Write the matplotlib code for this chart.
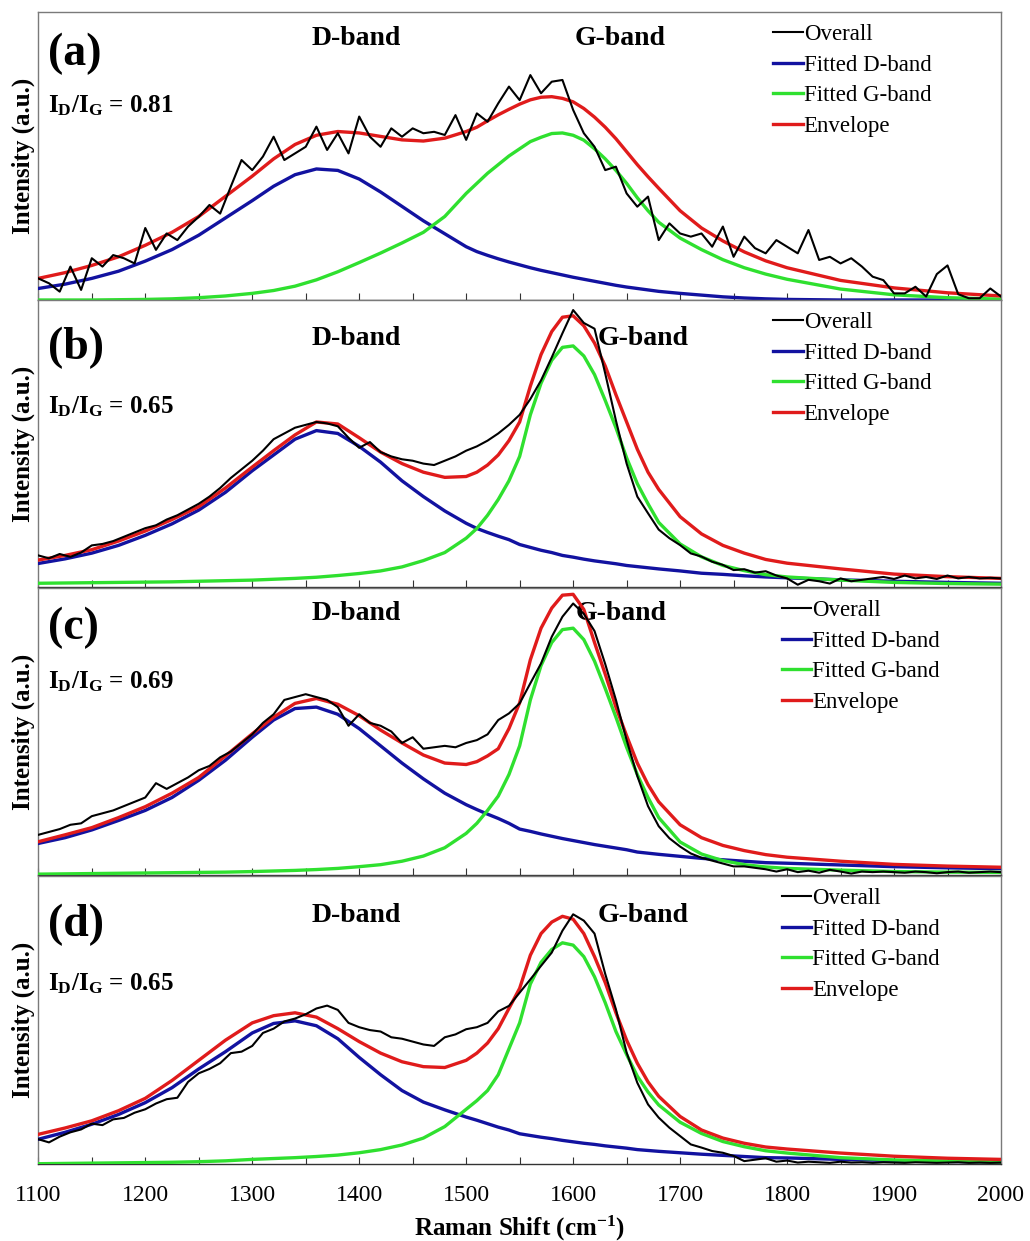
import numpy as np
import matplotlib
matplotlib.use('Agg')
import matplotlib.pyplot as plt
from matplotlib.ticker import MultipleLocator

plt.rcParams.update({
    'font.family': 'Liberation Serif',
    'mathtext.fontset': 'custom',
    'mathtext.rm': 'Liberation Serif',
    'mathtext.bf': 'Liberation Serif:bold',
    'mathtext.it': 'Liberation Serif:italic',
})

# ---- data (intensity in a.u. per panel) ----
PANEL_TAGS = ['(a)', '(b)', '(c)', '(d)']
RATIOS = ['0.81', '0.65', '0.69', '0.65']
LEGEND_LABELS = ['Overall', 'Fitted D-band', 'Fitted G-band', 'Envelope']

# raman shift grid for the fitted curves
SHIFT_FIT = [1100, 1125, 1150, 1175, 1200, 1225, 1250, 1275, 1300, 1320, 1340, 1360,
             1380, 1400, 1420, 1440, 1460, 1480, 1500, 1510, 1520, 1530, 1540, 1550,
             1560, 1570, 1580, 1590, 1600, 1610, 1620, 1630, 1640, 1650, 1660, 1670,
             1680, 1700, 1720, 1740, 1760, 1780, 1800, 1850, 1900, 1950, 2000]
# raman shift grid for the measured spectra
SHIFT_RAW = np.arange(1100, 2001, 10)

D_A = [0.040, 0.055, 0.075, 0.100, 0.135, 0.175, 0.225, 0.285, 0.345, 0.395, 0.435, 0.455,
       0.450, 0.420, 0.375, 0.325, 0.275, 0.230, 0.185, 0.168, 0.155, 0.143, 0.132, 0.122,
       0.112, 0.103, 0.095, 0.087, 0.079, 0.072, 0.065, 0.058, 0.051, 0.045, 0.040, 0.035,
       0.030, 0.023, 0.017, 0.011, 0.007, 0.004, 0.002, 0.0, 0.0, 0.0, 0.0]
G_A = [0.0, 0.0, 0.0, 0.001, 0.002, 0.004, 0.008, 0.014, 0.023, 0.033, 0.048, 0.070,
       0.098, 0.130, 0.163, 0.198, 0.235, 0.290, 0.370, 0.405, 0.440, 0.470, 0.500, 0.525,
       0.550, 0.565, 0.578, 0.580, 0.572, 0.555, 0.525, 0.490, 0.450, 0.405, 0.355, 0.310,
       0.270, 0.215, 0.175, 0.140, 0.112, 0.090, 0.072, 0.038, 0.018, 0.008, 0.003]
ENV_A = [0.075, 0.095, 0.120, 0.150, 0.190, 0.235, 0.290, 0.360, 0.430, 0.490, 0.540, 0.572,
         0.585, 0.580, 0.568, 0.556, 0.552, 0.562, 0.585, 0.600, 0.622, 0.643, 0.662, 0.680,
         0.695, 0.704, 0.706, 0.700, 0.688, 0.665, 0.635, 0.600, 0.560, 0.515, 0.470, 0.428,
         0.388, 0.310, 0.250, 0.205, 0.167, 0.136, 0.112, 0.068, 0.042, 0.025, 0.014]
RAW_A = [0.075, 0.058, 0.029, 0.116, 0.035, 0.145, 0.116, 0.156, 0.145, 0.127, 0.250, 0.174,
         0.231, 0.208, 0.255, 0.289, 0.330, 0.300, 0.394, 0.486, 0.451, 0.498, 0.567, 0.486,
         0.509, 0.532, 0.602, 0.521, 0.579, 0.509, 0.637, 0.567, 0.532, 0.596, 0.567, 0.596,
         0.579, 0.584, 0.573, 0.642, 0.556, 0.648, 0.619, 0.683, 0.741, 0.694, 0.781, 0.718,
         0.758, 0.764, 0.660, 0.579, 0.532, 0.451, 0.463, 0.370, 0.324, 0.359, 0.208, 0.266,
         0.231, 0.220, 0.231, 0.185, 0.255, 0.150, 0.220, 0.180, 0.162, 0.208, 0.185, 0.162,
         0.243, 0.139, 0.150, 0.127, 0.145, 0.116, 0.081, 0.069, 0.023, 0.023, 0.046, 0.012,
         0.090, 0.120, 0.020, 0.006, 0.006, 0.040, 0.012]

D_B = [0.082, 0.098, 0.118, 0.145, 0.180, 0.220, 0.268, 0.330, 0.405, 0.460, 0.515, 0.545,
       0.535, 0.490, 0.435, 0.370, 0.315, 0.265, 0.222, 0.204, 0.190, 0.177, 0.165, 0.148,
       0.138, 0.128, 0.120, 0.110, 0.104, 0.097, 0.091, 0.086, 0.081, 0.075, 0.071, 0.067,
       0.063, 0.056, 0.048, 0.044, 0.039, 0.035, 0.032, 0.025, 0.020, 0.016, 0.013]
G_B = [0.013, 0.014, 0.015, 0.016, 0.017, 0.018, 0.020, 0.022, 0.024, 0.027, 0.030, 0.034,
       0.040, 0.047, 0.056, 0.070, 0.092, 0.120, 0.170, 0.204, 0.250, 0.305, 0.370, 0.455,
       0.600, 0.710, 0.790, 0.835, 0.840, 0.805, 0.740, 0.650, 0.555, 0.450, 0.360, 0.290,
       0.225, 0.150, 0.105, 0.075, 0.057, 0.043, 0.035, 0.024, 0.016, 0.012, 0.010]
ENV_B = [0.094, 0.110, 0.130, 0.160, 0.195, 0.235, 0.280, 0.345, 0.418, 0.475, 0.530, 0.575,
         0.568, 0.520, 0.470, 0.430, 0.400, 0.382, 0.385, 0.400, 0.425, 0.460, 0.510, 0.575,
         0.700, 0.810, 0.890, 0.940, 0.945, 0.910, 0.850, 0.770, 0.670, 0.575, 0.480, 0.400,
         0.340, 0.245, 0.185, 0.145, 0.118, 0.096, 0.083, 0.063, 0.045, 0.036, 0.030]
RAW_B = [0.110, 0.100, 0.115, 0.105, 0.120, 0.145, 0.150, 0.160, 0.175, 0.190, 0.205, 0.215,
         0.235, 0.250, 0.270, 0.290, 0.315, 0.345, 0.380, 0.410, 0.440, 0.475, 0.515, 0.535,
         0.555, 0.565, 0.575, 0.570, 0.560, 0.520, 0.485, 0.505, 0.470, 0.455, 0.445, 0.440,
         0.430, 0.425, 0.440, 0.455, 0.475, 0.490, 0.510, 0.535, 0.565, 0.600, 0.655, 0.720,
         0.800, 0.884, 0.965, 0.920, 0.900, 0.744, 0.580, 0.430, 0.315, 0.257, 0.200, 0.170,
         0.146, 0.117, 0.106, 0.088, 0.077, 0.059, 0.062, 0.050, 0.055, 0.040, 0.030, 0.008,
         0.025, 0.020, 0.012, 0.030, 0.020, 0.025, 0.030, 0.035, 0.028, 0.040, 0.030, 0.035,
         0.028, 0.040, 0.030, 0.035, 0.030, 0.032, 0.030]

D_C = [0.110, 0.130, 0.157, 0.190, 0.225, 0.270, 0.330, 0.400, 0.480, 0.540, 0.580, 0.585,
       0.560, 0.510, 0.450, 0.390, 0.335, 0.285, 0.245, 0.228, 0.212, 0.197, 0.180, 0.160,
       0.152, 0.143, 0.135, 0.127, 0.120, 0.113, 0.106, 0.100, 0.094, 0.088, 0.080, 0.076,
       0.072, 0.065, 0.058, 0.053, 0.048, 0.043, 0.041, 0.035, 0.029, 0.025, 0.022]
G_C = [0.003, 0.004, 0.005, 0.006, 0.007, 0.008, 0.009, 0.010, 0.012, 0.014, 0.016, 0.019,
       0.023, 0.029, 0.036, 0.048, 0.066, 0.095, 0.145, 0.180, 0.225, 0.275, 0.350, 0.450,
       0.610, 0.730, 0.810, 0.855, 0.860, 0.820, 0.745, 0.650, 0.550, 0.445, 0.350, 0.270,
       0.200, 0.115, 0.073, 0.050, 0.036, 0.028, 0.023, 0.017, 0.012, 0.010, 0.009]
ENV_C = [0.116, 0.140, 0.165, 0.200, 0.238, 0.285, 0.340, 0.415, 0.492, 0.550, 0.598, 0.615,
         0.595, 0.555, 0.505, 0.460, 0.418, 0.390, 0.385, 0.395, 0.415, 0.440, 0.510, 0.600,
         0.750, 0.860, 0.930, 0.975, 0.978, 0.925, 0.810, 0.700, 0.585, 0.485, 0.390, 0.315,
         0.255, 0.175, 0.130, 0.103, 0.085, 0.071, 0.062, 0.048, 0.037, 0.031, 0.027]
RAW_C = [0.140, 0.150, 0.160, 0.175, 0.180, 0.205, 0.215, 0.225, 0.240, 0.255, 0.270, 0.320,
         0.300, 0.320, 0.340, 0.365, 0.380, 0.410, 0.430, 0.460, 0.490, 0.530, 0.560, 0.610,
         0.620, 0.630, 0.620, 0.610, 0.585, 0.520, 0.560, 0.530, 0.520, 0.500, 0.460, 0.480,
         0.440, 0.445, 0.450, 0.445, 0.460, 0.470, 0.490, 0.540, 0.563, 0.598, 0.668, 0.737,
         0.830, 0.900, 0.946, 0.910, 0.850, 0.735, 0.610, 0.470, 0.345, 0.240, 0.170, 0.128,
         0.099, 0.075, 0.060, 0.050, 0.040, 0.030, 0.030, 0.025, 0.020, 0.012, 0.020, 0.010,
         0.015, 0.008, 0.018, 0.012, 0.005, 0.012, 0.010, 0.012, 0.010, 0.008, 0.012, 0.010,
         0.006, 0.010, 0.012, 0.008, 0.010, 0.012, 0.010]

D_D = [0.086, 0.110, 0.138, 0.172, 0.213, 0.265, 0.330, 0.390, 0.455, 0.488, 0.497, 0.480,
       0.435, 0.370, 0.310, 0.255, 0.215, 0.188, 0.163, 0.152, 0.140, 0.128, 0.118, 0.105,
       0.099, 0.093, 0.088, 0.082, 0.077, 0.072, 0.068, 0.063, 0.059, 0.055, 0.050, 0.047,
       0.044, 0.039, 0.034, 0.030, 0.026, 0.022, 0.021, 0.016, 0.012, 0.009, 0.007]
G_D = [0.001, 0.002, 0.003, 0.004, 0.005, 0.006, 0.008, 0.011, 0.016, 0.019, 0.022, 0.026,
       0.031, 0.039, 0.050, 0.066, 0.090, 0.130, 0.190, 0.220, 0.255, 0.310, 0.400, 0.490,
       0.625, 0.700, 0.745, 0.768, 0.760, 0.720, 0.650, 0.560, 0.460, 0.380, 0.305, 0.250,
       0.205, 0.145, 0.106, 0.078, 0.060, 0.046, 0.038, 0.022, 0.014, 0.010, 0.007]
ENV_D = [0.103, 0.125, 0.150, 0.185, 0.228, 0.290, 0.360, 0.430, 0.490, 0.515, 0.525, 0.510,
         0.470, 0.425, 0.385, 0.355, 0.338, 0.335, 0.360, 0.385, 0.420, 0.470, 0.540, 0.610,
         0.725, 0.800, 0.840, 0.860, 0.850, 0.800, 0.720, 0.630, 0.525, 0.430, 0.350, 0.285,
         0.235, 0.165, 0.118, 0.090, 0.072, 0.059, 0.052, 0.038, 0.027, 0.020, 0.016]
RAW_D = [0.086, 0.075, 0.095, 0.110, 0.120, 0.140, 0.135, 0.155, 0.160, 0.178, 0.190, 0.210,
         0.225, 0.230, 0.285, 0.315, 0.330, 0.350, 0.385, 0.390, 0.410, 0.455, 0.470, 0.495,
         0.505, 0.520, 0.540, 0.550, 0.535, 0.490, 0.475, 0.465, 0.460, 0.440, 0.435, 0.425,
         0.415, 0.410, 0.440, 0.450, 0.468, 0.475, 0.490, 0.530, 0.549, 0.595, 0.641, 0.688,
         0.734, 0.810, 0.867, 0.845, 0.800, 0.660, 0.537, 0.387, 0.282, 0.207, 0.161, 0.126,
         0.097, 0.068, 0.057, 0.045, 0.039, 0.028, 0.010, 0.015, 0.020, 0.008, 0.012, 0.005,
         0.008, 0.006, 0.004, 0.008, 0.005, 0.006, 0.004, 0.006, 0.005, 0.004, 0.006, 0.005,
         0.004, 0.005, 0.006, 0.004, 0.005, 0.004, 0.005]

RAW = [RAW_A, RAW_B, RAW_C, RAW_D]
D_FIT = [D_A, D_B, D_C, D_D]
G_FIT = [G_A, G_B, G_C, G_D]
ENV = [ENV_A, ENV_B, ENV_C, ENV_D]

# ---- layout ----
W, H = 1030, 1241
AX_LEFT, AX_RIGHT = 38.3, 1001
PANEL_PX = [(12, 300), (300, 587), (588, 875), (876, 1164)]
TAG_Y = [0.856, 0.834, 0.862, 0.830]
RATIO_Y = [0.653, 0.605, 0.650, 0.604]
BAND_Y = [0.885, 0.843, 0.889, 0.840]
GBAND_X = [0.604, 0.628, 0.605, 0.628]
LEG_X = [0.763, 0.763, 0.772, 0.772]

C_RAW = 'black'
C_D = '#1212a0'
C_G = '#2fe02f'
C_ENV = '#e01b1b'
SPINE = '#7a7a7a'

fig = plt.figure(figsize=(W / 100, H / 100), dpi=100)

for i in range(4):
    top, bot = PANEL_PX[i]
    ax = fig.add_axes([AX_LEFT / W, 1 - bot / H, (AX_RIGHT - AX_LEFT) / W, (bot - top) / H])

    ax.plot(SHIFT_RAW, RAW[i], color=C_RAW, lw=1.5, label=LEGEND_LABELS[0], zorder=5)
    ax.plot(SHIFT_FIT, D_FIT[i], color=C_D, lw=2.4, label=LEGEND_LABELS[1], zorder=3)
    ax.plot(SHIFT_FIT, G_FIT[i], color=C_G, lw=2.4, label=LEGEND_LABELS[2], zorder=3)
    ax.plot(SHIFT_FIT, ENV[i], color=C_ENV, lw=2.4, label=LEGEND_LABELS[3], zorder=4)

    ax.set_xlim(1100, 2000)
    ax.set_ylim(0, 1)
    ax.set_yticks([])
    ax.xaxis.set_major_locator(MultipleLocator(100))
    ax.xaxis.set_minor_locator(MultipleLocator(50))
    ax.tick_params(axis='x', which='both', direction='in', length=5, width=0.8,
                   color='#333333', labelsize=17, pad=15)
    if i < 3:
        ax.tick_params(axis='x', which='both', labelbottom=False)
    for side in ['top', 'left', 'right']:
        ax.spines[side].set_color(SPINE)
        ax.spines[side].set_linewidth(1.0)
    ax.spines['bottom'].set_color('#333333')
    ax.spines['bottom'].set_linewidth(1.0)

    ax.text(0.01, TAG_Y[i], PANEL_TAGS[i], transform=ax.transAxes, fontsize=33,
            fontweight='bold', ha='left', va='center')
    ax.text(0.01, RATIO_Y[i], r'$\mathbf{I_D/I_G}$ = ' + RATIOS[i], transform=ax.transAxes,
            fontsize=18, fontweight='bold', ha='left', va='baseline')
    ax.text(0.33, BAND_Y[i], 'D-band', transform=ax.transAxes, fontsize=20,
            fontweight='bold', ha='center', va='baseline')
    ax.text(GBAND_X[i], BAND_Y[i], 'G-band', transform=ax.transAxes, fontsize=20,
            fontweight='bold', ha='center', va='baseline', zorder=2)

    ax.legend(loc='upper left', bbox_to_anchor=(LEG_X[i], 0.958), frameon=False,
              fontsize=16.5, handlelength=1.3, handletextpad=0.05, labelspacing=0.42,
              borderpad=0, borderaxespad=0)

    yc = 1 - (top + bot) / 2 / H
    fig.text(23 / W, yc, 'Intensity (a.u.)', rotation=90, fontsize=18,
             fontweight='bold', ha='center', va='center')

fig.text(519 / W, 1 - 1228 / H, r'Raman Shift (cm$^{\mathbf{-1}}$)', fontsize=18,
         fontweight='bold', ha='center', va='center')

fig.savefig('out.png', dpi=100)
